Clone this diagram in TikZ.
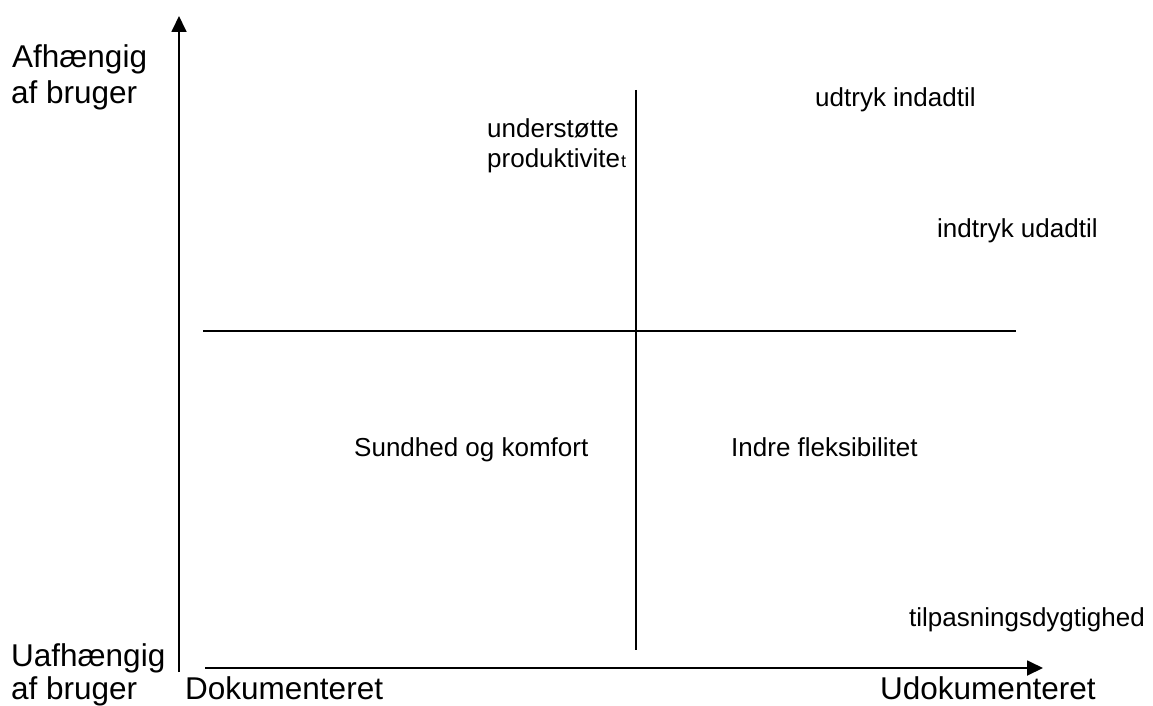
\documentclass[tikz,border=0pt]{standalone}
\usepackage{fontspec}
\setmainfont{Liberation Sans}
\usetikzlibrary{arrows.meta}

\tikzset{
    big/.style={anchor=base west, inner sep=0pt, font=\fontsize{31.5}{34}\selectfont},
    small/.style={anchor=base west, inner sep=0pt, font=\fontsize{26}{30}\selectfont},
    axis/.style={line width=1.8pt, -{Triangle[length=16pt, width=15pt]}},
    split/.style={line width=1.5pt}
}

\begin{document}
\begin{tikzpicture}[x=1pt, y=-1pt]
    \useasboundingbox (0, 0) rectangle (1153, 706);

    % axes
    \coordinate (origy) at (179, 672);
    \coordinate (topy) at (179, 16);
    \coordinate (origx) at (205, 668);
    \coordinate (endx) at (1043, 668);
    \draw[axis] (origy) -- (topy);
    \draw[axis] (origx) -- (endx);

    % quadrant lines
    \coordinate (midl) at (203, 331);
    \coordinate (midr) at (1016, 331);
    \coordinate (midt) at (636, 90);
    \coordinate (midb) at (636, 650);
    \draw[split] (midl) -- (midr);
    \draw[split] (midt) -- (midb);

    % axis labels
    \node[big] (dep1) at (12, 68) {Afhængig};
    \node[big] (dep2) at (11, 103) {af bruger};
    \node[big] (indep1) at (11, 666) {Uafhængig};
    \node[big] (indep2) at (11, 699) {af bruger};
    \node[big] (doc) at (185, 699) {Dokumenteret};
    \node[big] (undoc) at (880, 699) {Udokumenteret};

    % quadrant texts
    \node[small] (prod1) at (487, 138) {understøtte};
    \node[small] (prod2) at (487, 167) {produktivite{\fontsize{18}{20}\selectfont\hspace{1pt}t}};
    \node[small] (ind) at (815, 107) {udtryk indadtil};
    \node[small] (ud) at (937, 237) {indtryk udadtil};
    \node[small] (sund) at (354, 456) {Sundhed og komfort};
    \node[small] (flex) at (731, 456) {Indre fleksibilitet};
    \node[small] (tilp) at (909, 626) {tilpasningsdygtighed};
\end{tikzpicture}
\end{document}
